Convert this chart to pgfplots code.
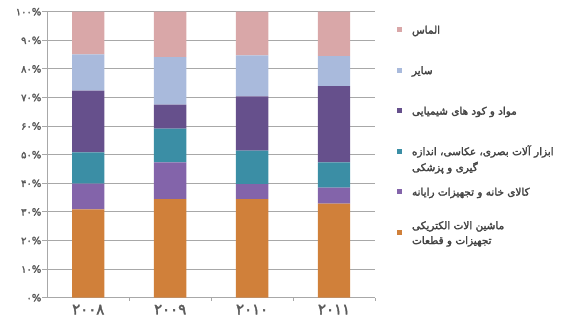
\documentclass[border=0pt]{standalone}
\usepackage{fontspec}
\usepackage{pgfplots}
\pgfplotsset{compat=1.18}
\usepackage{pgfplotstable}
\TeXXeTstate=1
\setmainfont{DejaVu Sans}
\newfontfamily\arabicfont[Script=Arabic]{DejaVu Sans}
\newfontfamily\arabicbold[Script=Arabic, FakeBold=2.5]{DejaVu Sans}
\definecolor{cpink}{HTML}{D9A7A8}
\definecolor{cblue}{HTML}{A9BADC}
\definecolor{cdark}{HTML}{66508C}
\definecolor{cteal}{HTML}{3B8EA5}
\definecolor{cpurp}{HTML}{8364AA}
\definecolor{corng}{HTML}{D0803A}
\definecolor{cgrid}{HTML}{A8A8A8}
\definecolor{ctext}{HTML}{5A5A5A}
\definecolor{cleg}{HTML}{444444}
\pgfplotstableread{
x orange purple teal dark lblue pink
0 30.9 9.0 10.9 21.6 12.7 14.9
1 34.5 12.8 11.8 8.4 16.6 15.9
2 34.5 5.2 11.7 19.0 14.3 15.3
3 32.9 5.6 8.8 26.7 10.5 15.5
}\datatable
\begin{document}
\begin{tikzpicture}
\useasboundingbox (0,0) rectangle (582bp,317bp);
\begin{axis}[
  at={(47.3bp,19.3bp)}, anchor=south west,
  scale only axis, width=327.7bp, height=286bp,
  ybar stacked, bar width=32.4bp,
  xmin=-0.5, xmax=3.5, ymin=0, ymax=100,
  axis lines*=left,
  axis line style={cgrid, line width=1bp},
  tick align=outside,
  xtick={0,1,2,3},
  xticklabels={۲۰۰۸,۲۰۰۹,۲۰۱۰,۲۰۱۱},
  major x tick style={draw=none},
  minor xtick={0.5,1.5,2.5,3.5},
  minor tick length=3bp,
  minor x tick style={cgrid, line width=0.8bp},
  ytick={0,10,...,100},
  yticklabels={۰\%,۱۰\%,۲۰\%,۳۰\%,۴۰\%,۵۰\%,۶۰\%,۷۰\%,۸۰\%,۹۰\%,۱۰۰\%},
  major tick length=5bp,
  y tick style={cgrid, line width=0.8bp},
  ymajorgrids, grid style={cgrid, line width=0.8bp},
  xticklabel style={font=\arabicbold\fontsize{15}{17}\selectfont, text=ctext, inner sep=0bp, yshift=-2bp},
  yticklabel style={font=\arabicbold\fontsize{10}{12}\selectfont, text=ctext, inner sep=0pt, xshift=-0.8bp},
  reverse legend,
  legend image code/.code={\fill[#1] (0bp,-0.5bp) rectangle (5bp,4.5bp);},
  legend style={at={(1.0671,0.946)}, anchor=north west, draw=none, fill=none,
    inner sep=0pt, outer sep=0pt, row sep=32bp,
    font=\arabicbold\fontsize{10.5}{12}\selectfont, text=cleg,
    nodes={inner sep=0pt, text height=6bp, text depth=2bp},
    /tikz/every odd column/.append style={column sep=10bp}},
  legend cell align=left,
]
\addplot[fill=corng, draw=none] table[x=x, y=orange] {\datatable};
\addlegendentry{\raisebox{7bp}{\begin{tabular}[t]{@{}l@{}}\beginR ماشین الات الکتریکی\endR\\[3bp]\beginR تجهیزات و قطعات\endR\end{tabular}}}
\addplot[fill=cpurp, draw=none] table[x=x, y=purple] {\datatable};
\addlegendentry{\beginR کالای خانه و تجهیزات رایانه\endR}
\addplot[fill=cteal, draw=none] table[x=x, y=teal] {\datatable};
\addlegendentry{\begin{tabular}[t]{@{}l@{}}\beginR ابزار آلات بصری، عکاسی، اندازه\endR\\[3bp]\beginR گیری و پزشکی\endR\end{tabular}}
\addplot[fill=cdark, draw=none] table[x=x, y=dark] {\datatable};
\addlegendentry{\beginR مواد و کود های شیمیایی\endR}
\addplot[fill=cblue, draw=none] table[x=x, y=lblue] {\datatable};
\addlegendentry{\beginR سایر\endR}
\addplot[fill=cpink, draw=none] table[x=x, y=pink] {\datatable};
\addlegendentry{\beginR الماس\endR}
\end{axis}
\end{tikzpicture}
\end{document}
